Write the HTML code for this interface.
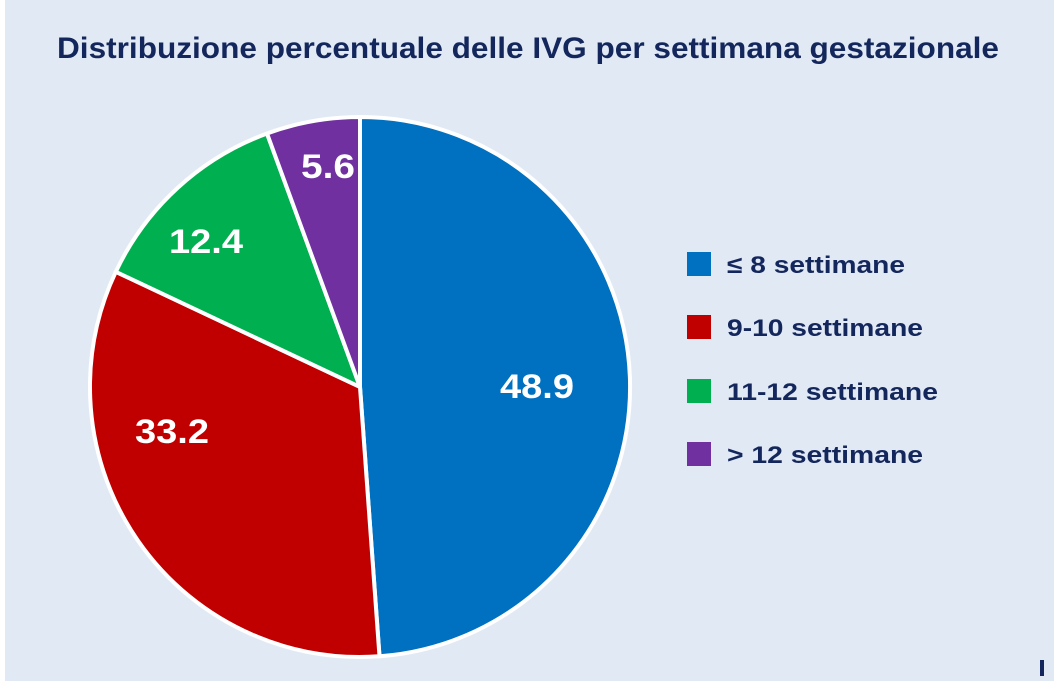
<!DOCTYPE html>
<html><head><meta charset="utf-8"><style>
html,body{margin:0;padding:0;background:#fff;}
svg{display:block;}
</style></head><body>
<svg width="1054" height="686" xmlns="http://www.w3.org/2000/svg">
<rect x="5" y="0" width="1049" height="681" fill="#e1e9f4"/>
<text x="528" y="58" text-anchor="middle" font-family="'Liberation Sans',sans-serif" font-weight="bold" font-size="30" fill="#14275c" textLength="942" lengthAdjust="spacingAndGlyphs">Distribuzione percentuale delle IVG per settimana gestazionale</text>
<g stroke="#fff" stroke-width="4" stroke-linejoin="round">
<path d="M360,387 L360,117 A270,270 0 0 1 379.5,656.3 Z" fill="#0070c0"/>
<path d="M360,387 L379.5,656.3 A270,270 0 0 1 115.8,271.8 Z" fill="#c00000"/>
<path d="M360,387 L115.8,271.8 A270,270 0 0 1 267,133.5 Z" fill="#00b050"/>
<path d="M360,387 L267,133.5 A270,270 0 0 1 360,117 Z" fill="#7030a0"/>
</g>
<g font-family="'Liberation Sans',sans-serif" font-weight="bold" font-size="34" fill="#fff" text-anchor="middle">
<text x="537" y="398" textLength="74" lengthAdjust="spacingAndGlyphs">48.9</text>
<text x="172" y="443" textLength="74" lengthAdjust="spacingAndGlyphs">33.2</text>
<text x="206" y="253" textLength="74" lengthAdjust="spacingAndGlyphs">12.4</text>
<text x="328" y="178" textLength="54" lengthAdjust="spacingAndGlyphs">5.6</text>
</g>
<g font-family="'Liberation Sans',sans-serif" font-weight="bold" font-size="24" fill="#14275c">
<rect x="687" y="252" width="24" height="24" fill="#0070c0"/>
<text x="727" y="273" textLength="178" lengthAdjust="spacingAndGlyphs">≤ 8 settimane</text>
<rect x="687" y="315" width="24" height="24" fill="#c00000"/>
<text x="727" y="336" textLength="196" lengthAdjust="spacingAndGlyphs">9-10 settimane</text>
<rect x="687" y="379" width="24" height="24" fill="#00b050"/>
<text x="727" y="400" textLength="211" lengthAdjust="spacingAndGlyphs">11-12 settimane</text>
<rect x="687" y="442" width="24" height="24" fill="#7030a0"/>
<text x="727" y="463" textLength="196" lengthAdjust="spacingAndGlyphs">&gt; 12 settimane</text>
</g>
<rect x="1040" y="660" width="4" height="16" fill="#14275c"/>
</svg>
</body></html>
